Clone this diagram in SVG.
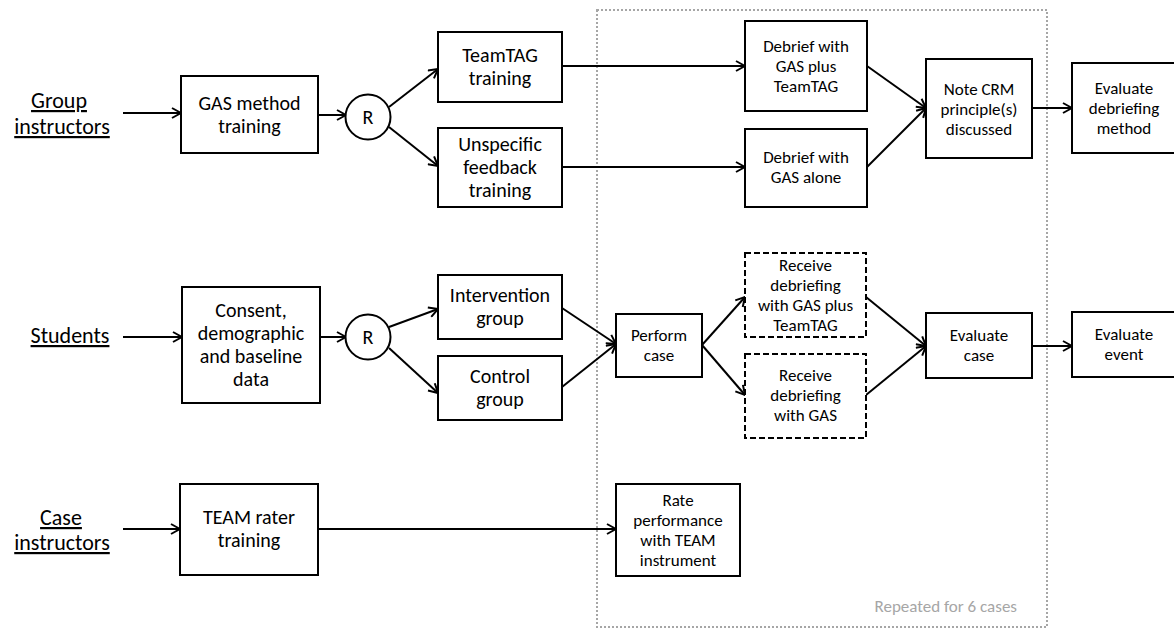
<svg xmlns="http://www.w3.org/2000/svg" width="1174" height="632" viewBox="0 0 1174 632">
<defs>
<style>
text{font-family:"Carlito","Lato","Liberation Sans",sans-serif;fill:#000;text-anchor:middle}
.lbl{font-size:22px;text-decoration:underline}
.big{font-size:20px}
.sm{font-size:17px}
.box{fill:#fff;stroke:#000;stroke-width:2}
.dash{fill:#fff;stroke:#000;stroke-width:2;stroke-dasharray:6 3}
.con{fill:none;stroke:#000;stroke-width:2;marker-end:url(#arr)}
.rep{fill:none;stroke:#a6a6a6;stroke-width:2;stroke-dasharray:2 2}
.note{font-size:17px;fill:#a6a6a6;text-anchor:end}
</style>
<marker id="arr" viewBox="0 0 12 12" refX="11" refY="6" markerWidth="12" markerHeight="12" markerUnits="userSpaceOnUse" orient="auto">
<path d="M2,1 L11,6 L2,11" fill="none" stroke="#000" stroke-width="2"/>
</marker>
</defs>
<rect width="1174" height="632" fill="#fff"/>

<g id="repeat-frame">
<rect class="rep" x="597" y="10" width="450" height="617"/>
<text class="note" x="1017" y="612">Repeated for 6 cases</text>
</g>

<g id="labels">
<g id="label-group"><text class="lbl" x="59" y="108">Group</text><text class="lbl" x="62" y="134">instructors</text></g>
<g id="label-students"><text class="lbl" x="70" y="343">Students</text></g>
<g id="label-case"><text class="lbl" x="61" y="525">Case</text><text class="lbl" x="62" y="550">instructors</text></g>
</g>

<g id="connectors">
<line class="con" x1="123" y1="113" x2="181" y2="113"/>
<line class="con" x1="318" y1="115" x2="346" y2="115"/>
<line class="con" x1="389" y1="107" x2="438" y2="69"/>
<line class="con" x1="389" y1="127" x2="438" y2="166"/>
<line class="con" x1="562" y1="66" x2="745" y2="66"/>
<line class="con" x1="562" y1="167" x2="745" y2="167"/>
<line class="con" x1="867" y1="66" x2="926" y2="108"/>
<line class="con" x1="867" y1="167" x2="926" y2="108"/>
<line class="con" x1="1032" y1="108" x2="1072" y2="108"/>

<line class="con" x1="123" y1="337" x2="182" y2="337"/>
<line class="con" x1="320" y1="337" x2="346" y2="337"/>
<line class="con" x1="389" y1="327" x2="438" y2="309"/>
<line class="con" x1="389" y1="348" x2="438" y2="393"/>
<line class="con" x1="562" y1="308" x2="616" y2="344"/>
<line class="con" x1="562" y1="387" x2="616" y2="344"/>
<line class="con" x1="702" y1="345" x2="745" y2="297"/>
<line class="con" x1="702" y1="345" x2="745" y2="395"/>
<line class="con" x1="866" y1="297" x2="926" y2="346"/>
<line class="con" x1="866" y1="395" x2="926" y2="346"/>
<line class="con" x1="1032" y1="346" x2="1072" y2="346"/>

<line class="con" x1="123" y1="529" x2="180" y2="529"/>
<line class="con" x1="318" y1="529" x2="616" y2="529"/>
</g>

<g id="gas-method-training"><rect class="box" x="181" y="76" width="137" height="77"/><text class="big" x="249.5" y="110">GAS method</text><text class="big" x="249.5" y="133">training</text></g>
<g id="r-group"><circle class="box" cx="368" cy="117" r="22.5"/><text class="big" x="368" y="124">R</text></g>
<g id="teamtag-training"><rect class="box" x="438" y="32" width="124" height="70"/><text class="big" x="500" y="62">TeamTAG</text><text class="big" x="500" y="85">training</text></g>
<g id="unspecific-training"><rect class="box" x="438" y="128" width="124" height="79"/><text class="big" x="500" y="151">Unspecific</text><text class="big" x="500" y="174">feedback</text><text class="big" x="500" y="197">training</text></g>
<g id="debrief-plus"><rect class="box" x="745" y="21" width="122" height="90"/><text class="sm" x="806" y="52">Debrief with</text><text class="sm" x="806" y="72">GAS plus</text><text class="sm" x="806" y="92">TeamTAG</text></g>
<g id="debrief-alone"><rect class="box" x="745" y="129" width="122" height="78"/><text class="sm" x="806" y="163">Debrief with</text><text class="sm" x="806" y="183">GAS alone</text></g>
<g id="note-crm"><rect class="box" x="926" y="59" width="106" height="99"/><text class="sm" x="979" y="95">Note CRM</text><text class="sm" x="979" y="115">principle(s)</text><text class="sm" x="979" y="135">discussed</text></g>
<g id="evaluate-method"><rect class="box" x="1072" y="63" width="110" height="90"/><text class="sm" x="1124" y="94">Evaluate</text><text class="sm" x="1124" y="114">debriefing</text><text class="sm" x="1124" y="134">method</text></g>

<g id="consent"><rect class="box" x="182" y="287" width="138" height="116"/><text class="big" x="251" y="317">Consent,</text><text class="big" x="251" y="340">demographic</text><text class="big" x="251" y="363">and baseline</text><text class="big" x="251" y="386">data</text></g>
<g id="r-students"><circle class="box" cx="368" cy="337" r="22.5"/><text class="big" x="368" y="344">R</text></g>
<g id="intervention"><rect class="box" x="438" y="275" width="124" height="64"/><text class="big" x="500" y="302">Intervention</text><text class="big" x="500" y="325">group</text></g>
<g id="control"><rect class="box" x="438" y="356" width="124" height="64"/><text class="big" x="500" y="383">Control</text><text class="big" x="500" y="406">group</text></g>
<g id="perform-case"><rect class="box" x="616" y="314" width="86" height="63"/><text class="sm" x="659" y="341">Perform</text><text class="sm" x="659" y="361">case</text></g>
<g id="receive-plus"><rect class="dash" x="745" y="253" width="121" height="84"/><text class="sm" x="805.5" y="271">Receive</text><text class="sm" x="805.5" y="291">debriefing</text><text class="sm" x="805.5" y="311">with GAS plus</text><text class="sm" x="805.5" y="331">TeamTAG</text></g>
<g id="receive-gas"><rect class="dash" x="745" y="354" width="121" height="84"/><text class="sm" x="805.5" y="381">Receive</text><text class="sm" x="805.5" y="401">debriefing</text><text class="sm" x="805.5" y="421">with GAS</text></g>
<g id="evaluate-case"><rect class="box" x="926" y="313" width="106" height="65"/><text class="sm" x="979" y="341">Evaluate</text><text class="sm" x="979" y="361">case</text></g>
<g id="evaluate-event"><rect class="box" x="1072" y="312" width="110" height="65"/><text class="sm" x="1124" y="340">Evaluate</text><text class="sm" x="1124" y="360">event</text></g>

<g id="team-rater"><rect class="box" x="180" y="484" width="138" height="91"/><text class="big" x="249" y="524">TEAM rater</text><text class="big" x="249" y="547">training</text></g>
<g id="rate-performance"><rect class="box" x="616" y="484" width="124" height="92"/><text class="sm" x="678" y="506">Rate</text><text class="sm" x="678" y="526">performance</text><text class="sm" x="678" y="546">with TEAM</text><text class="sm" x="678" y="566">instrument</text></g>
</svg>
